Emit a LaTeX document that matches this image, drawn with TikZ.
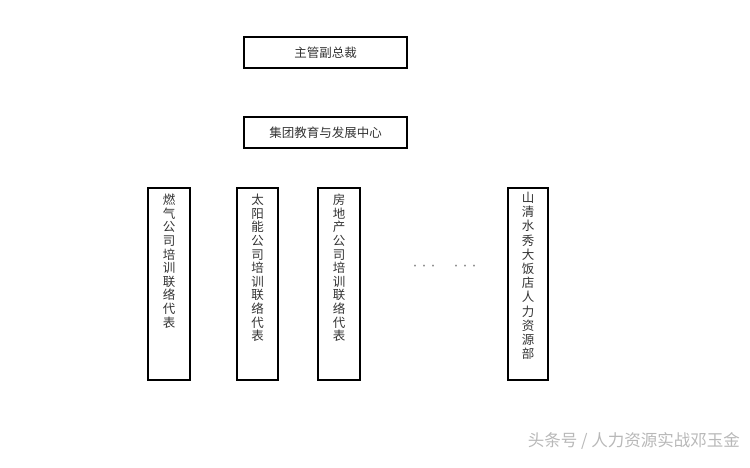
\documentclass[tikz,border=0pt]{standalone}
\usepackage{fontspec}
\newfontfamily\cjk{Noto Sans CJK SC}
\definecolor{txt}{HTML}{333333}
\definecolor{wm}{HTML}{B8B8B8}
\begin{document}
\begin{tikzpicture}[x=1pt,y=-1pt,
  hbox/.style={draw=black,line width=1.1pt,minimum width=163pt,minimum height=31pt,inner sep=0pt,
    font=\cjk\fontsize{12.5}{14}\selectfont,text=txt},
  vbox/.style={draw=black,line width=1.1pt,inner sep=0pt},
  vtext/.style={anchor=north,inner sep=0pt,align=center,text=txt,font=\cjk\fontsize{12.5}{13.6}\selectfont},
  dotsty/.style={text=gray,font=\fontsize{9}{9}\selectfont\cjk}
]
\useasboundingbox (0,0) rectangle (750,467);
\node[hbox] (vp) at (325.5,52.5) {主管副总裁};
\node[hbox] (edu) at (325.5,132.5) {集团教育与发展中心};
\draw[vbox] (148,188) rectangle (190,380);
\draw[vbox] (237,188) rectangle (278,380);
\draw[vbox] (318,188) rectangle (360,380);
\draw[vbox] (508,188) rectangle (548,380);
\node[vtext] (t1) at (169,194) {燃\\气\\公\\司\\培\\训\\联\\络\\代\\表};
\node[vtext] (t2) at (257.5,194) {太\\阳\\能\\公\\司\\培\\训\\联\\络\\代\\表};
\node[vtext] (t3) at (339,194) {房\\地\\产\\公\\司\\培\\训\\联\\络\\代\\表};
\node[vtext,font=\cjk\fontsize{12.5}{14.2}\selectfont] (t4) at (528,192) {山\\清\\水\\秀\\大\\饭\\店\\人\\力\\资\\源\\部};
\node[dotsty] (d1) at (424,267) {···};
\node[dotsty] (d2) at (465,267) {···};
\node[text=wm,font=\cjk\fontsize{16.5}{18}\selectfont,anchor=east,inner sep=0pt] (wmk) at (740,441) {头条号 / 人力资源实战邓玉金};
\end{tikzpicture}
\end{document}
